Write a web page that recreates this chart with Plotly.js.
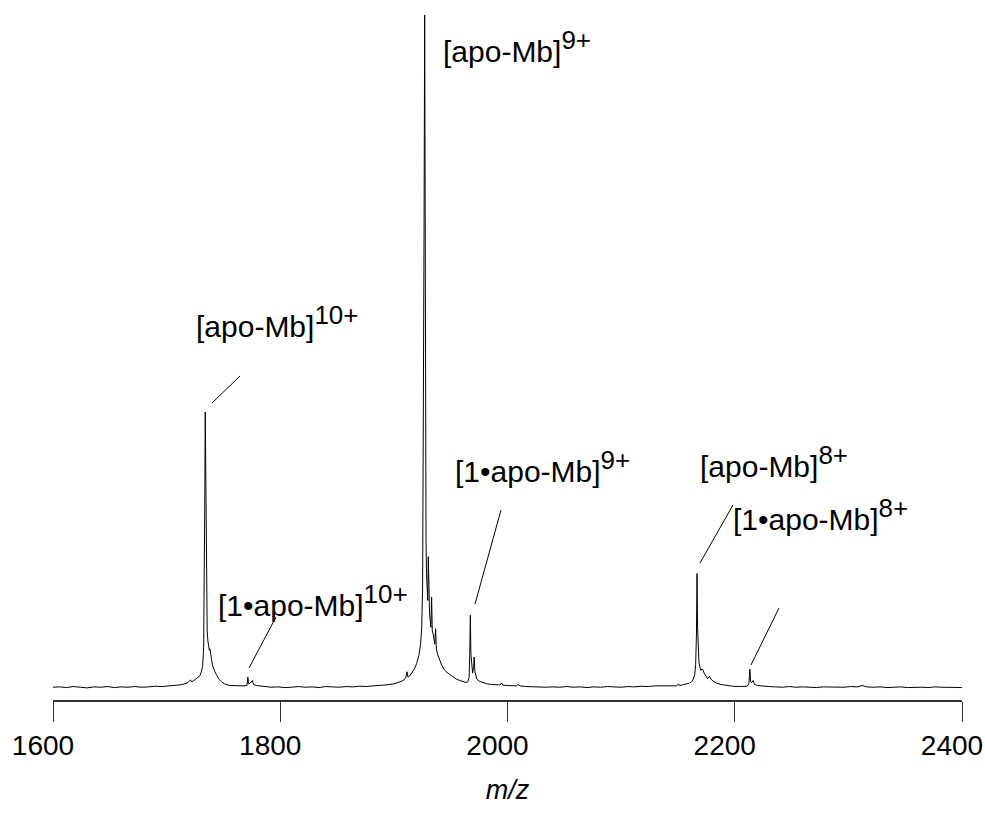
<!DOCTYPE html>
<html>
<head>
<meta charset="utf-8">
<script src="https://cdn.plot.ly/plotly-3.0.1.min.js"></script>
<style>html,body{margin:0;padding:0;background:#fff;}#chart{width:985px;height:814px;}</style>
</head>
<body>
<div id="chart"></div>
<script>
// m/z values of the spectrum
const mz = [
1600,1606,1612,1618,1624,1630,1636,1642,1648,1654,1660,1666,1672,1678,1684,1690,1696,1702,1708,1712,1716,1719,1721,1722,1724,1726,1728,1729.3,1730.5,1731.7,1732.6,1733.2,1733.6,1734.0,1734.4,1734.8,1735.2,1735.7,1736.3,1737.0,1737.6,1738.1,1738.8,1739.6,1740.3,1741,1742.5,1744,1746,1748.4,1751,1755.7,1760,1765,1769,1770.8,1771.5,1772.2,1773.5,1775.5,1776.5,1779,1782,1786,1792,
1798,1804,1810,1816,1822,1828,1834,1840,1846,1852,1858,1864,1870,1876,1882,1888,1894,1900,1904,1907,1909,1910.5,1911.5,1912.5,1914,1916,1918,1920,1922,1923.5,1924.5,1925.3,1926,1926.6,1927.1,1927.5,1927.9,1928.3,1928.7,1929.2,1929.8,1930.3,1930.8,1931.4,1932.0,1932.6,1933.2,1933.8,1934.6,1935.3,1936.0,1936.7,1937.4,1938.5,1940,1942,1944,1946,1949,1952,1955,1958,1961,1963.5,1965,1966.2,1966.8,1967.3,1967.8,1968.5,1969.3,1970.2,1970.7,1971.3,1972,1973,1975,1978,1982,1986,1990,1993.5,1994.8,1996,2000,2004,2008,2009.3,2011,2016,2022,2028,2034,
2040,2046,2052,2058,2064,2070,2076,2082,2088,2094,2100,2106,2112,2118,2124,2130,2136,2142,2146,2149,2150.5,2151.5,2154,2157,2160,2162,2163.5,2164.8,2165.6,2166.3,2166.8,2167.3,2167.8,2168.5,2169.3,2170.2,2171,2172,2173,2174.5,2176,2177.8,2179,2181,2184,2188,2193,2198,2204,2208,2211,2212.5,2213.3,2214,2215,2216.2,2217.5,2220,2224,2230,
2236,2242,2248,2254,2260,2266,2272,2278,2284,2290,2296,2302,2308,2312,2316,2322,2328,2334,2340,2346,2352,2358,2364,2370,2376,2382,2388,2394,2400
];
// relative intensity (%) at each m/z
const intensity = [
0.1,0.15,0.05,0.2,0.1,0.0,0.15,0.1,0.2,0.05,0.15,0.1,0.2,0.1,0.15,0.25,0.2,0.3,0.35,0.45,0.6,0.8,1.2,0.9,1.1,1.4,1.6,1.8,2.4,3.2,6,14,28,41,30,16,10,8.5,7,6.2,5.6,5.8,4.6,4.2,3.4,3.0,2.4,1.9,1.3,0.9,0.6,0.35,0.3,0.3,0.3,0.4,1.6,0.6,0.7,1.1,0.5,0.35,0.3,0.15,0.1,
0.15,0.05,0.1,0.2,0.1,0.15,0.05,0.2,0.15,0.1,0.2,0.15,0.25,0.2,0.3,0.35,0.45,0.6,0.8,1.0,1.2,1.5,2.4,1.6,1.8,2.3,2.8,3.6,4.8,6.5,9,15,35,70,100,60,25,22,17,15,13,19.5,12,11,10,9,13.5,8.5,8,7,6.5,8.8,5.8,5,4.2,3.4,2.8,2.4,2.0,1.6,1.3,1.1,0.9,0.8,0.9,1.5,5,10.8,5,2.8,2.2,3.2,4.6,2.4,1.7,1.3,1.0,0.8,0.6,0.5,0.45,0.45,0.75,0.4,0.35,0.3,0.3,0.5,0.3,0.2,0.15,0.2,0.1,
0.15,0.1,0.2,0.1,0.15,0.05,0.15,0.1,0.2,0.15,0.1,0.2,0.15,0.25,0.2,0.3,0.3,0.35,0.35,0.3,0.6,0.35,0.45,0.55,0.7,0.9,1.3,2.0,3.5,8,17,9,4.9,3.8,3.1,2.6,2.8,2.7,2.2,1.8,1.4,1.7,1.3,1.0,0.7,0.5,0.35,0.25,0.2,0.2,0.25,0.7,2.8,0.9,0.8,1.1,0.5,0.35,0.25,0.2,
0.15,0.1,0.2,0.1,0.15,0.1,0.05,0.15,0.1,0.15,0.1,0.2,0.15,0.35,0.15,0.1,0.15,0.05,0.1,0.15,0.05,0.1,0.1,0.05,0.15,0.1,0.05,0.1,0.05
];
const tickValues = [1600, 1800, 2000, 2200, 2400];
const tickLabels = ['1600', '1800', '2000', '2200', '2400'];
const ionNames = ['[apo-Mb]', '[apo-Mb]', '[1•apo-Mb]', '[1•apo-Mb]', '[apo-Mb]', '[1•apo-Mb]'];
const ionCharges = ['9+', '10+', '10+', '9+', '8+', '8+'];

// pixel -> data helpers for placing labels (plot area 53..962 x 15..700)
const L = 53, R = 962, T = 15, B = 700;
const X0 = 1600, X1 = 2400, Y0 = -1.8, Y1 = 100;
const px2x = p => X0 + (p - L) * (X1 - X0) / (R - L);
const py2y = p => Y0 + (B - p) * (Y1 - Y0) / (B - T);

// label placement: left edge px, bottom px
const labelPos = [[441, 70], [194, 345], [216, 624], [453, 490], [698, 485], [731, 538]];
// leader lines: [x0,y0,x1,y1] px
const leaders = [null, [240, 376, 212, 403], [276, 617, 249, 668], [501, 510, 475, 604], [733, 505, 700, 563], [779, 608, 751, 665]];

const font = 'Liberation Sans, Arial, Helvetica, sans-serif';
const annotations = ionNames.map((n, i) => ({
  xref: 'x', yref: 'y',
  x: px2x(labelPos[i][0]), y: py2y(labelPos[i][1]),
  xanchor: 'left', yanchor: 'bottom',
  text: n + '<sup><span style="font-size:26px">' + ionCharges[i] + '</span></sup>',
  showarrow: false,
  font: {family: font, size: 30, color: '#000'}
}));
const shapes = leaders.filter(Boolean).map(l => ({
  type: 'line', xref: 'x', yref: 'y',
  x0: px2x(l[0]), y0: py2y(l[1]), x1: px2x(l[2]), y1: py2y(l[3]),
  line: {color: '#000', width: 1}
}));

const trace = {
  x: mz, y: intensity, type: 'scatter', mode: 'lines',
  line: {color: '#000', width: 1}, hoverinfo: 'skip'
};

const layout = {
  width: 985, height: 814,
  margin: {l: L, r: 985 - R, t: T, b: 814 - B},
  paper_bgcolor: '#fff', plot_bgcolor: '#fff',
  showlegend: false,
  xaxis: {
    range: [X0, X1], tickvals: tickValues, ticktext: tickLabels,
    ticks: 'outside', ticklen: 20, tickwidth: 1, tickcolor: '#333',
    showline: true, linecolor: '#333', linewidth: 1.5,
    showgrid: false, zeroline: false,
    ticklabeloverflow: 'allow', ticklabelshift: -10,
    tickfont: {family: font, size: 28, color: '#000'},
    title: {text: '<i>m/z</i>', font: {family: font, size: 27, color: '#000'}, standoff: 20}
  },
  yaxis: {range: [Y0, Y1], visible: false, showgrid: false, zeroline: false},
  annotations: annotations,
  shapes: shapes
};

Plotly.newPlot('chart', [trace], layout, {staticPlot: true, displayModeBar: false});
</script>
</body>
</html>
